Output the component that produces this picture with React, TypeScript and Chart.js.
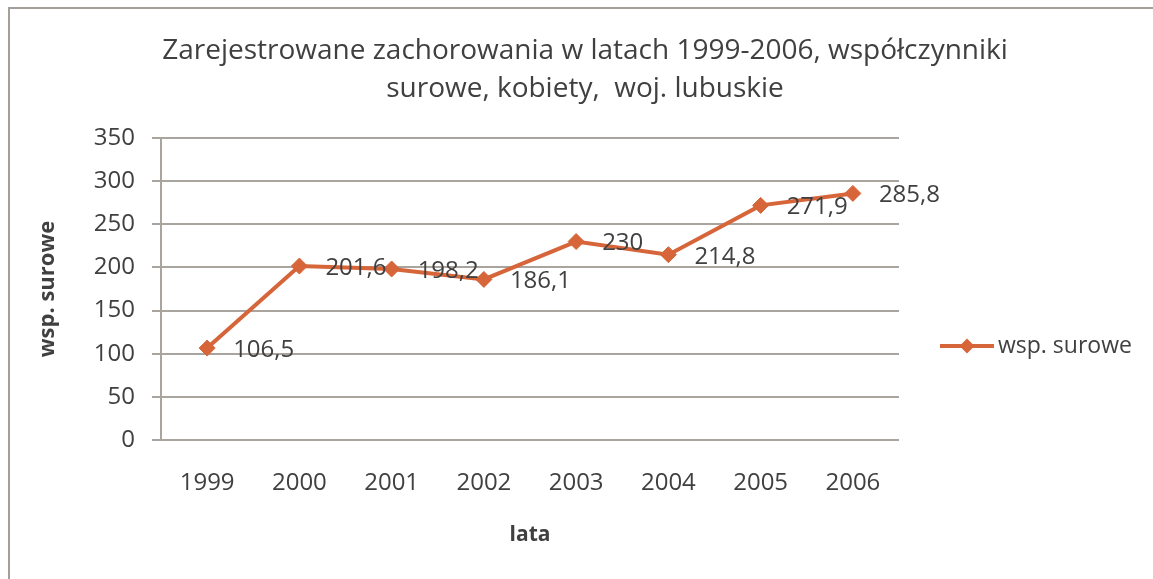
import { useEffect, useRef } from 'react';
import { Chart, registerables } from 'chart.js';

Chart.register(...registerables);

const TITLE_LINES = [
  'Zarejestrowane zachorowania w latach 1999-2006, współczynniki',
  'surowe, kobiety,  woj. lubuskie',
];
const YEARS = ['1999', '2000', '2001', '2002', '2003', '2004', '2005', '2006'];
const VALUES = [106.5, 201.6, 198.2, 186.1, 230, 214.8, 271.9, 285.8];
const SERIES_NAME = 'wsp. surowe';
const Y_TITLE = 'wsp. surowe';
const X_TITLE = 'lata';
const Y_MIN = 0;
const Y_MAX = 350;
const Y_STEP = 50;

const FONT = "'Open Sans', sans-serif";
const TEXT = '#404040';
const ORANGE = '#d7653a';
const GRID = '#aaa49f';
const FRAME = '#a59f9a';

const fmt = (v: number) => String(v).replace('.', ',');

const decorPlugin = {
  id: 'decor',
  beforeDraw(chart: any) {
    const { ctx, width, height } = chart;
    ctx.save();
    ctx.fillStyle = '#ffffff';
    ctx.fillRect(0, 0, width, height);
    ctx.strokeStyle = FRAME;
    ctx.lineWidth = 2;
    ctx.beginPath();
    ctx.moveTo(9, height + 5);
    ctx.lineTo(9, 8);
    ctx.lineTo(width + 5, 8);
    ctx.stroke();
    ctx.restore();
  },
  afterDatasetsDraw(chart: any) {
    const { ctx } = chart;
    const meta = chart.getDatasetMeta(0);
    const data = chart.data.datasets[0].data as number[];
    ctx.save();
    ctx.font = `24px ${FONT}`;
    ctx.fillStyle = TEXT;
    ctx.textAlign = 'left';
    ctx.textBaseline = 'middle';
    meta.data.forEach((pt: any, i: number) => {
      ctx.fillText(fmt(data[i]), pt.x + 26, pt.y + 2);
    });
    ctx.restore();
  },
  afterDraw(chart: any) {
    const { ctx, chartArea } = chart;
    const x0 = chartArea.right + 41;
    const y = chartArea.top + 208;
    const len = 54;
    ctx.save();
    ctx.strokeStyle = ORANGE;
    ctx.lineWidth = 4;
    ctx.beginPath();
    ctx.moveTo(x0, y);
    ctx.lineTo(x0 + len, y);
    ctx.stroke();
    const cx = x0 + len / 2;
    const r = 7.5;
    ctx.fillStyle = ORANGE;
    ctx.beginPath();
    ctx.moveTo(cx - r, y);
    ctx.lineTo(cx, y - r);
    ctx.lineTo(cx + r, y);
    ctx.lineTo(cx, y + r);
    ctx.closePath();
    ctx.fill();
    ctx.font = `23px ${FONT}`;
    ctx.fillStyle = TEXT;
    ctx.textAlign = 'left';
    ctx.textBaseline = 'middle';
    ctx.fillText(SERIES_NAME, x0 + len + 4, y);
    ctx.restore();
  },
};

export default function App() {
  const ref = useRef<HTMLCanvasElement | null>(null);

  useEffect(() => {
    if (!ref.current) return;
    const chart = new Chart(ref.current, {
      type: 'line',
      data: {
        labels: YEARS,
        datasets: [
          {
            label: SERIES_NAME,
            data: VALUES,
            borderColor: ORANGE,
            backgroundColor: ORANGE,
            borderWidth: 4,
            pointStyle: 'rectRot',
            pointRadius: 8,
            pointBorderWidth: 1,
            pointBackgroundColor: ORANGE,
            pointBorderColor: ORANGE,
            tension: 0,
            fill: false,
          },
        ],
      },
      options: {
        responsive: false,
        animation: false,
        devicePixelRatio: 1,
        layout: { padding: { left: 17, right: 0, top: 0, bottom: 0 } },
        plugins: {
          legend: { display: false },
          tooltip: { enabled: false },
          title: {
            display: true,
            text: TITLE_LINES,
            color: TEXT,
            font: { family: FONT, size: 28, weight: 'normal', lineHeight: 38 / 28 },
            padding: { top: 32, bottom: 30 },
          },
        },
        scales: {
          x: {
            offset: true,
            grid: { display: false, drawTicks: false },
            border: { display: false },
            ticks: { color: TEXT, font: { family: FONT, size: 24 }, padding: 29 },
            title: {
              display: true,
              text: X_TITLE,
              color: TEXT,
              font: { family: FONT, size: 21, weight: 'bold' },
              padding: { top: 0, bottom: 31 },
            },
            afterFit: (s: any) => {
              s.height = 139;
            },
          },
          y: {
            min: Y_MIN,
            max: Y_MAX,
            ticks: {
              stepSize: Y_STEP,
              color: TEXT,
              font: { family: FONT, size: 24 },
              padding: 17,
            },
            grid: { color: GRID, lineWidth: 2, tickLength: 9 },
            border: { color: GRID, width: 2 },
            title: {
              display: true,
              text: Y_TITLE,
              color: TEXT,
              font: { family: FONT, size: 22, weight: 'bold' },
              padding: { top: 18, bottom: 0 },
            },
            afterFit: (s: any) => {
              s.width = 144;
            },
          },
          spacer: {
            position: 'right',
            display: true,
            ticks: { display: false },
            grid: { display: false, drawTicks: false },
            border: { display: false },
            afterFit: (s: any) => {
              s.width = 254;
            },
          },
        },
      },
      plugins: [decorPlugin],
    } as any);
    return () => chart.destroy();
  }, []);

  return (
    <div style={{ position: 'fixed', left: 0, top: 0, width: 1153, height: 579, overflow: 'hidden', background: '#fff' }}>
      <canvas ref={ref} width={1153} height={579} style={{ display: 'block' }} />
    </div>
  );
}
